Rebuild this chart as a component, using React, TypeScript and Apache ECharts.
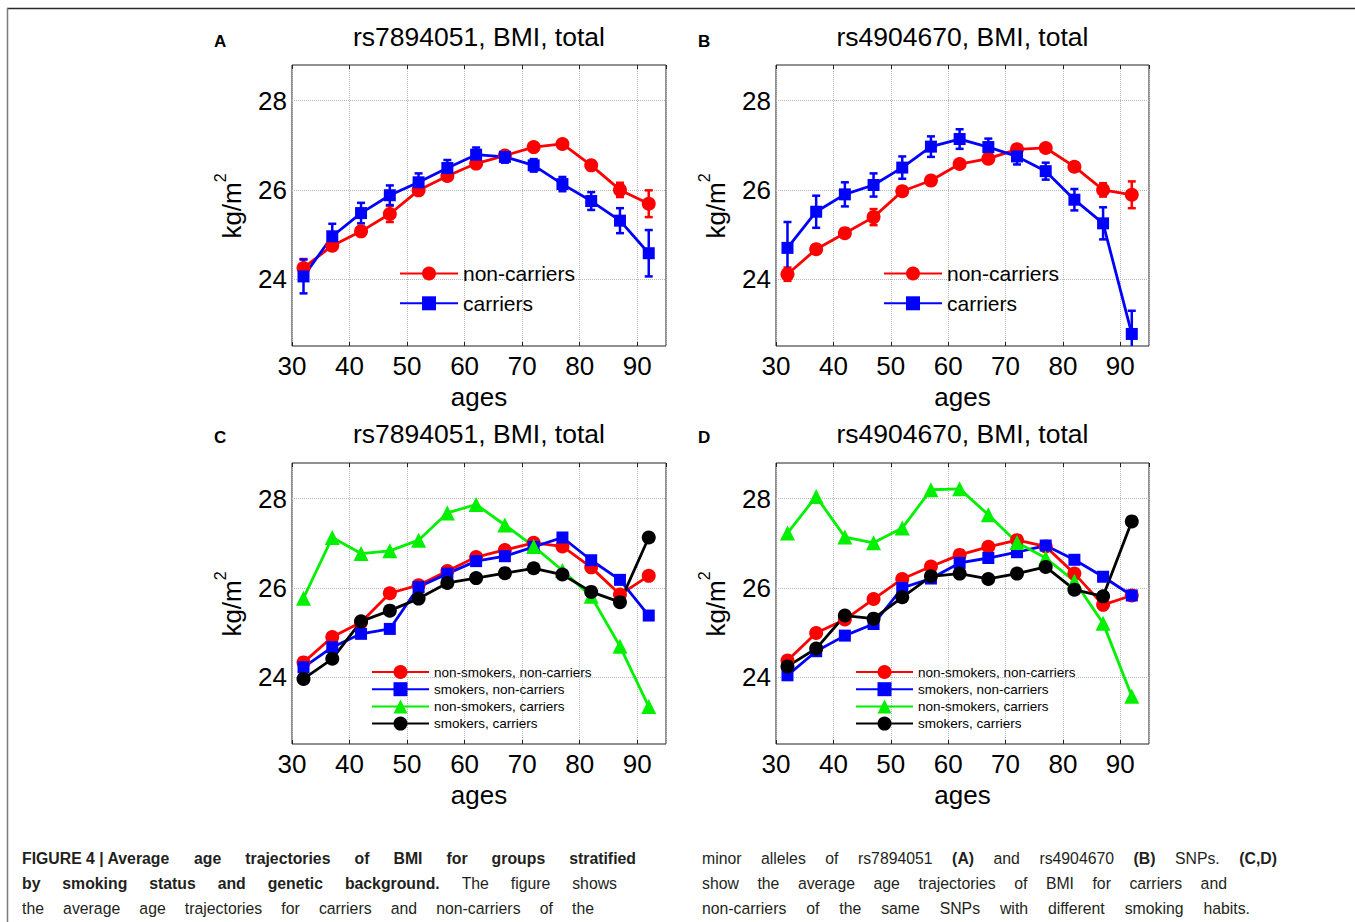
import React, { useEffect, useRef } from 'react';
import * as echarts from 'echarts';

// ---------------- data ----------------
const ages = [32, 37, 42, 47, 52, 57, 62, 67, 72, 77, 82, 87, 92];
const xTicks = [30, 40, 50, 60, 70, 80, 90];
const yTicks = [24, 26, 28];

const aNonCarriers = [24.25, 24.75, 25.07, 25.46, 25.99, 26.31, 26.59, 26.77, 26.96, 27.03, 26.55, 26.0, 25.69];
const aNonCarriersErr = [0.2, 0.1, 0.1, 0.18, 0.1, 0.1, 0.08, 0.08, 0.08, 0.08, 0.1, 0.16, 0.3];
const aCarriers = [24.06, 24.96, 25.48, 25.88, 26.17, 26.49, 26.79, 26.74, 26.55, 26.13, 25.75, 25.31, 24.58];
const aCarriersErr = [0.38, 0.28, 0.23, 0.22, 0.2, 0.18, 0.16, 0.13, 0.14, 0.16, 0.2, 0.28, 0.52];

const bNonCarriers = [24.11, 24.67, 25.03, 25.39, 25.97, 26.21, 26.58, 26.7, 26.91, 26.94, 26.52, 26.0, 25.89];
const bNonCarriersErr = [0.15, 0.1, 0.1, 0.18, 0.1, 0.1, 0.08, 0.1, 0.08, 0.08, 0.1, 0.15, 0.3];
const bCarriers = [24.7, 25.51, 25.9, 26.11, 26.5, 26.97, 27.14, 26.96, 26.75, 26.42, 25.78, 25.25, 22.77];
const bCarriersErr = [0.58, 0.36, 0.27, 0.26, 0.25, 0.23, 0.22, 0.19, 0.18, 0.19, 0.24, 0.36, 0.52];

const cNonSmokNonCarr = [24.33, 24.9, 25.23, 25.88, 26.06, 26.38, 26.69, 26.85, 27.01, 26.93, 26.46, 25.85, 26.27];
const cSmokNonCarr = [24.22, 24.67, 24.97, 25.08, 26.02, 26.32, 26.6, 26.71, 26.92, 27.13, 26.62, 26.18, 25.38];
const cNonSmokCarr = [25.77, 27.13, 26.77, 26.83, 27.07, 27.68, 27.87, 27.41, 26.93, 26.39, 25.81, 24.69, 23.34];
const cSmokCarr = [23.96, 24.41, 25.25, 25.49, 25.76, 26.11, 26.22, 26.33, 26.44, 26.3, 25.91, 25.68, 27.13];

const dNonSmokNonCarr = [24.37, 24.99, 25.29, 25.75, 26.2, 26.48, 26.74, 26.92, 27.07, 26.93, 26.32, 25.62, 25.83];
const dSmokNonCarr = [24.04, 24.58, 24.93, 25.19, 26.0, 26.21, 26.56, 26.67, 26.8, 26.95, 26.63, 26.25, 25.83];
const dNonSmokCarr = [27.23, 28.05, 27.14, 27.01, 27.34, 28.2, 28.22, 27.64, 27.02, 26.67, 26.15, 25.21, 23.57];
const dSmokCarr = [24.24, 24.64, 25.38, 25.31, 25.79, 26.26, 26.32, 26.2, 26.32, 26.47, 25.96, 25.81, 27.49];

const titles = ['rs7894051, BMI, total', 'rs4904670, BMI, total', 'rs7894051, BMI, total', 'rs4904670, BMI, total'];
const letters = ['A', 'B', 'C', 'D'];

const captionLeft = [
  [{ t: 'FIGURE 4 | Average', b: true, keep: true }, { t: 'age trajectories of BMI for groups stratified', b: true }],
  [{ t: 'by smoking status and genetic background.', b: true }, { t: 'The figure shows', b: false }],
  [{ t: 'the average age trajectories for carriers and non-carriers of the', b: false }],
];
const captionRight = [
  [
    { t: 'minor alleles of rs7894051', b: false },
    { t: '(A)', b: true },
    { t: 'and rs4904670', b: false },
    { t: '(B)', b: true },
    { t: 'SNPs.', b: false },
    { t: '(C,D)', b: true },
  ],
  [{ t: 'show the average age trajectories of BMI for carriers and', b: false }],
  [{ t: 'non-carriers of the same SNPs with different smoking habits.', b: false }],
];

// ---------------- styling / layout ----------------
const FONT = '"Liberation Sans", Arial, sans-serif';
const CAP_FONT = '"Liberation Sans", Arial, sans-serif';
const CAP_SIZE = 17;
const CAP_SCALE = 0.93;
const RED = '#ff0000';
const BLUE = '#0000ff';
const GREEN = '#00f000';
const BLACK = '#000000';

const grids = [
  { left: 292, top: 65, width: 374, height: 281 },
  { left: 776, top: 65, width: 373, height: 281 },
  { left: 292, top: 463, width: 374, height: 281 },
  { left: 776, top: 463, width: 373, height: 281 },
];

const X_MIN = 30;
const X_MAX = 95;
const Y_MIN = 22.5;
const Y_MAX = 28.8;
const Y_STEP = 0.5;

type SeriesSpec = { name: string; values: number[]; err?: number[]; color: string; symbol: string; size: number };

const panelSeries: SeriesSpec[][] = [
  [
    { name: 'non-carriers', values: aNonCarriers, err: aNonCarriersErr, color: RED, symbol: 'circle', size: 14 },
    { name: 'carriers', values: aCarriers, err: aCarriersErr, color: BLUE, symbol: 'rect', size: 12 },
  ],
  [
    { name: 'non-carriers', values: bNonCarriers, err: bNonCarriersErr, color: RED, symbol: 'circle', size: 14 },
    { name: 'carriers', values: bCarriers, err: bCarriersErr, color: BLUE, symbol: 'rect', size: 12 },
  ],
  [
    { name: 'non-smokers, non-carriers', values: cNonSmokNonCarr, color: RED, symbol: 'circle', size: 14 },
    { name: 'smokers, non-carriers', values: cSmokNonCarr, color: BLUE, symbol: 'rect', size: 12 },
    { name: 'non-smokers, carriers', values: cNonSmokCarr, color: GREEN, symbol: 'triangle', size: 15 },
    { name: 'smokers, carriers', values: cSmokCarr, color: BLACK, symbol: 'circle', size: 14 },
  ],
  [
    { name: 'non-smokers, non-carriers', values: dNonSmokNonCarr, color: RED, symbol: 'circle', size: 14 },
    { name: 'smokers, non-carriers', values: dSmokNonCarr, color: BLUE, symbol: 'rect', size: 12 },
    { name: 'non-smokers, carriers', values: dNonSmokCarr, color: GREEN, symbol: 'triangle', size: 15 },
    { name: 'smokers, carriers', values: dSmokCarr, color: BLACK, symbol: 'circle', size: 14 },
  ],
];

function buildCaption(): any[] {
  const canvas = document.createElement('canvas');
  const ctx = canvas.getContext('2d') as CanvasRenderingContext2D;
  const size = CAP_SIZE;
  const out: any[] = [];
  const place = (lines: any[][], x0: number, ends: number[], ys: number[]) => {
    lines.forEach((segs, li) => {
      const words: { t: string; b: boolean; w: number }[] = [];
      segs.forEach((s: any) => {
        const parts = s.keep ? [s.t] : s.t.split(' ');
        parts.forEach((p: string) => {
          ctx.font = (s.b ? 'bold ' : '') + size + 'px ' + CAP_FONT;
          words.push({ t: p, b: s.b, w: ctx.measureText(p).width * CAP_SCALE });
        });
      });
      const total = words.reduce((a, w) => a + w.w, 0);
      const gap = words.length > 1 ? (ends[li] - x0 - total) / (words.length - 1) : 0;
      let x = x0;
      words.forEach((w) => {
        out.push({
          type: 'text',
          x,
          y: ys[li],
          scaleX: CAP_SCALE,
          silent: true,
          style: {
            text: w.t,
            fontSize: size,
            fontFamily: CAP_FONT,
            fontWeight: w.b ? 'bold' : 'normal',
            fill: '#231f20',
            align: 'left',
            textAlign: 'left',
            verticalAlign: 'middle',
            textVerticalAlign: 'middle',
          },
        });
        x += w.w + gap;
      });
    });
  };
  place(captionLeft, 22, [636, 617, 594], [858, 883, 908]);
  place(captionRight, 702, [1277, 1227, 1250], [857.5, 882.5, 907.5]);
  return out;
}

export default function App() {
  const ref = useRef<HTMLDivElement>(null);

  useEffect(() => {
    const el = ref.current;
    if (!el) return;
    const chart = echarts.init(el, undefined, { renderer: 'svg' });

    const ySplitColors = Array.from({ length: Math.round(2 / Y_STEP) }, (_, i) => {
      const v = Y_MIN + i * Y_STEP;
      return yTicks.some((t) => Math.abs((((t - v) % 2) + 2) % 2) < 1e-6) ? '#b8b8b8' : 'rgba(0,0,0,0)';
    });

    const xAxes: any[] = [];
    const yAxes: any[] = [];
    const series: any[] = [];
    const legends: any[] = [];
    const graphics: any[] = [];

    grids.forEach((g, i) => {
      xAxes.push({
        gridIndex: i,
        type: 'value',
        position: 'bottom',
        min: X_MIN,
        max: X_MAX,
        interval: 10,
        name: 'ages',
        nameLocation: 'middle',
        nameGap: 38,
        nameTextStyle: { fontSize: 26, color: '#000', fontFamily: FONT },
        axisLine: { show: false },
        axisTick: { show: true, inside: true, length: 4, lineStyle: { color: '#222' } },
        axisLabel: {
          fontSize: 26,
          color: '#000',
          fontFamily: FONT,
          margin: 7,
          showMaxLabel: false,
          formatter: (v: number) => (xTicks.some((t) => Math.abs(t - v) < 1e-6) ? String(Math.round(v)) : ''),
        },
        splitLine: { show: true, lineStyle: { type: 'dotted', color: '#b8b8b8', width: 1 } },
      });
      xAxes.push({
        gridIndex: i,
        type: 'value',
        position: 'top',
        min: X_MIN,
        max: X_MAX,
        interval: 10,
        axisLine: { show: false },
        axisTick: { show: true, inside: true, length: 4, lineStyle: { color: '#222' } },
        axisLabel: { show: false },
        splitLine: { show: false },
      });
      yAxes.push({
        gridIndex: i,
        type: 'value',
        min: Y_MIN,
        max: Y_MAX,
        interval: Y_STEP,
        axisLine: { show: false },
        axisTick: { show: false },
        axisLabel: {
          fontSize: 26,
          color: '#000',
          fontFamily: FONT,
          margin: 5,
          formatter: (v: number) => (yTicks.some((t) => Math.abs(t - v) < 1e-6) ? String(Math.round(v)) : ''),
        },
        splitLine: { show: true, lineStyle: { type: 'dotted', color: ySplitColors, width: 1 } },
      });

      const specs = panelSeries[i];
      specs.forEach((s) => {
        series.push({
          type: 'line',
          name: s.name,
          xAxisIndex: i * 2,
          yAxisIndex: i,
          data: ages.map((a, k) => [a, s.values[k]]),
          symbol: s.symbol,
          symbolSize: s.size,
          showSymbol: true,
          lineStyle: { color: s.color, width: 2.8 },
          itemStyle: { color: s.color },
          emphasis: { disabled: true },
          clip: true,
        });
        if (s.err) {
          const errs = s.err;
          const color = s.color;
          series.push({
            type: 'custom',
            name: s.name + ' SE',
            xAxisIndex: i * 2,
            yAxisIndex: i,
            clip: true,
            silent: true,
            data: ages.map((a, k) => [a, s.values[k], errs[k]]),
            encode: { x: 0, y: 1 },
            renderItem: (_p: any, api: any) => {
              const x = api.value(0);
              const y = api.value(1);
              const e = api.value(2);
              const top = api.coord([x, y + e]);
              const bot = api.coord([x, y - e]);
              const cw = 4;
              const style = { stroke: color, lineWidth: 2.5 };
              return {
                type: 'group',
                children: [
                  { type: 'line', shape: { x1: top[0], y1: top[1], x2: bot[0], y2: bot[1] }, style },
                  { type: 'line', shape: { x1: top[0] - cw, y1: top[1], x2: top[0] + cw, y2: top[1] }, style },
                  { type: 'line', shape: { x1: bot[0] - cw, y1: bot[1], x2: bot[0] + cw, y2: bot[1] }, style },
                ],
              };
            },
          });
        }
      });

      const big = i < 2;
      legends.push({
        orient: 'vertical',
        left: g.left + (big ? 107 : 79),
        top: big ? 263 : 665,
        padding: 0,
        itemWidth: big ? 58 : 57,
        itemHeight: 17.5,
        itemGap: big ? 8.8 : 3.2,
        selectedMode: false,
        data: specs.map((s) => s.name),
        textStyle: { fontSize: big ? 21 : 13.5, color: '#000', fontFamily: FONT },
      });

      const cx = g.left + g.width / 2;
      graphics.push({
        type: 'text',
        x: cx,
        y: i < 2 ? 36.5 : 434,
        silent: true,
        style: {
          text: titles[i],
          fontSize: 26.5,
          fontFamily: FONT,
          fill: '#000',
          align: 'center',
          textAlign: 'center',
          verticalAlign: 'middle',
          textVerticalAlign: 'middle',
        },
      });
      graphics.push({
        type: 'text',
        x: g.left - 78,
        y: i < 2 ? 41 : 437.5,
        silent: true,
        style: {
          text: letters[i],
          fontSize: 17,
          fontWeight: 'bold',
          fontFamily: FONT,
          fill: '#000',
          align: 'left',
          textAlign: 'left',
          verticalAlign: 'middle',
          textVerticalAlign: 'middle',
        },
      });
      graphics.push({
        type: 'text',
        x: g.left - 60.5,
        y: g.top + 141,
        rotation: Math.PI / 2,
        silent: true,
        style: {
          text: '{b|kg/m}{s|2}',
          fontFamily: FONT,
          fill: '#000',
          align: 'center',
          textAlign: 'center',
          verticalAlign: 'middle',
          textVerticalAlign: 'middle',
          rich: {
            b: { fontSize: 26, fontFamily: FONT, fill: '#000' },
            s: { fontSize: 16, fontFamily: FONT, fill: '#000', verticalAlign: 'top', padding: [0, 0, 22, 0] },
          },
        },
      });
    });

    graphics.push({
      type: 'line',
      silent: true,
      shape: { x1: 7, y1: 8.5, x2: 1355, y2: 8.5 },
      style: { stroke: '#2a2a2a', lineWidth: 1.5 },
    });
    graphics.push({
      type: 'line',
      silent: true,
      shape: { x1: 7.5, y1: 8, x2: 7.5, y2: 922 },
      style: { stroke: '#7a7a7a', lineWidth: 1.5 },
    });
    buildCaption().forEach((c) => graphics.push(c));

    const option: any = {
      animation: false,
      backgroundColor: '#ffffff',
      textStyle: { fontFamily: FONT },
      grid: grids.map((g) => ({
        left: g.left,
        top: g.top,
        width: g.width,
        height: g.height,
        show: true,
        borderColor: '#222',
        borderWidth: 1,
        backgroundColor: 'rgba(0,0,0,0)',
        containLabel: false,
      })),
      xAxis: xAxes,
      yAxis: yAxes,
      legend: legends,
      series,
      graphic: { elements: graphics },
    };
    chart.setOption(option);
    return () => chart.dispose();
  }, []);

  return (
    <div
      ref={ref}
      style={{ position: 'absolute', left: 0, top: 0, width: 1355, height: 922, background: '#fff' }}
    />
  );
}
